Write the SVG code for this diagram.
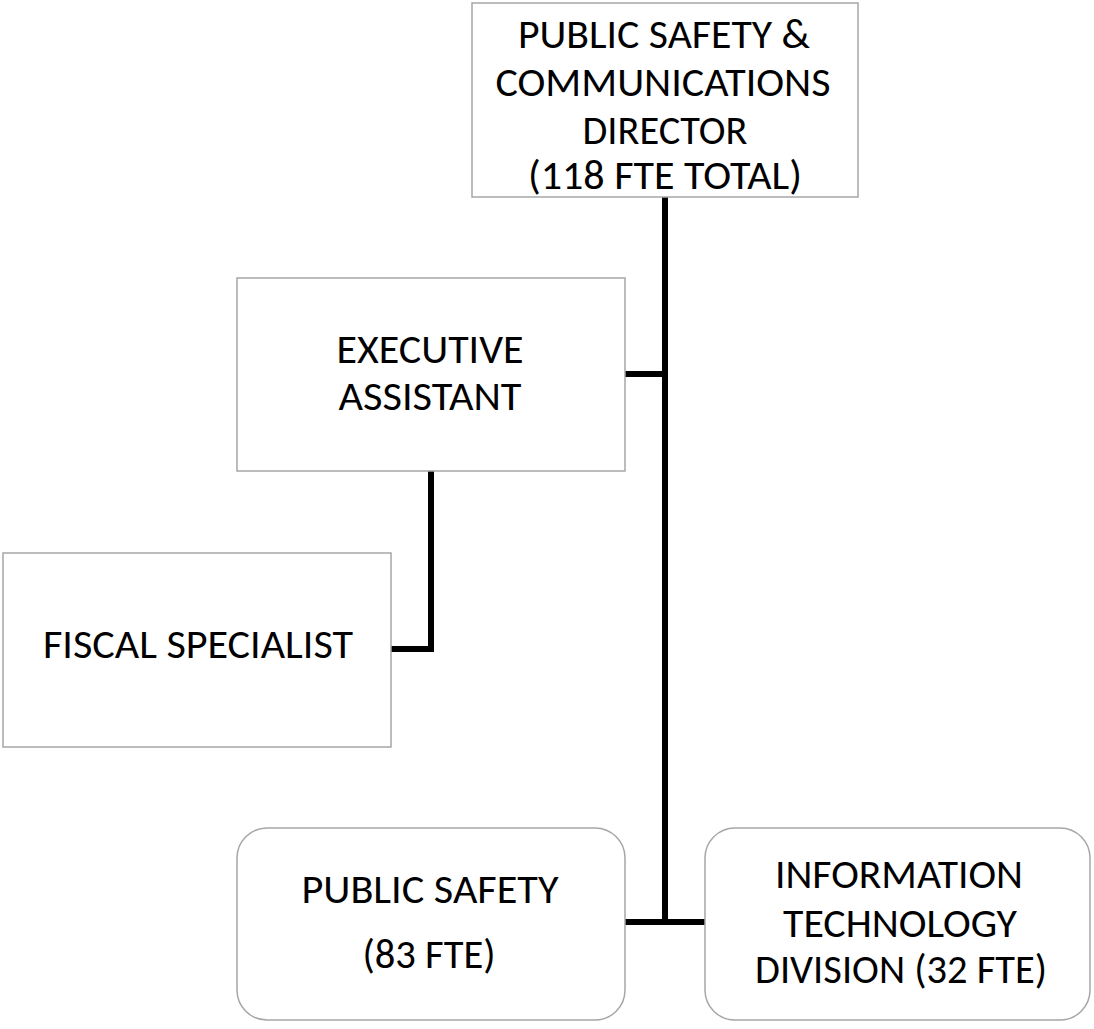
<svg xmlns="http://www.w3.org/2000/svg" width="1094" height="1029" viewBox="0 0 1094 1029">
<style>
.box{fill:#fff;stroke:#a6a6a6;stroke-width:1.5}
.lbl{font-family:Carlito,"Liberation Sans",Arial,sans-serif;font-size:40px;fill:#000;text-anchor:middle}
.con{stroke:#000;stroke-width:6;fill:none;stroke-linecap:butt}
</style>
<rect width="1094" height="1029" fill="#fff"/>
<g id="connectors">
<line class="con" x1="665" y1="197" x2="665" y2="925"/>
<line class="con" x1="625" y1="374" x2="668" y2="374"/>
<polyline class="con" points="431,471 431,649 391,649"/>
<line class="con" x1="625" y1="922" x2="705" y2="922"/>
</g>
<g id="director">
<rect class="box" x="472" y="3" width="386" height="194"/>
<text class="lbl" x="664" y="48" textLength="292" lengthAdjust="spacingAndGlyphs">PUBLIC SAFETY &amp;</text>
<text class="lbl" x="663" y="96" textLength="335" lengthAdjust="spacingAndGlyphs">COMMUNICATIONS</text>
<text class="lbl" x="665" y="144" textLength="165" lengthAdjust="spacingAndGlyphs">DIRECTOR</text>
<text class="lbl" x="665" y="189" textLength="274" lengthAdjust="spacingAndGlyphs">(118 FTE TOTAL)</text>
</g>
<g id="exec-assistant">
<rect class="box" x="237" y="278" width="388" height="193"/>
<text class="lbl" x="430" y="363" textLength="187" lengthAdjust="spacingAndGlyphs">EXECUTIVE</text>
<text class="lbl" x="430" y="410" textLength="183" lengthAdjust="spacingAndGlyphs">ASSISTANT</text>
</g>
<g id="fiscal-specialist">
<rect class="box" x="3" y="553" width="388" height="194"/>
<text class="lbl" x="198" y="658" textLength="310" lengthAdjust="spacingAndGlyphs">FISCAL SPECIALIST</text>
</g>
<g id="public-safety">
<rect class="box" x="237" y="828" width="388" height="192" rx="30" ry="30"/>
<text class="lbl" x="430" y="903" textLength="257" lengthAdjust="spacingAndGlyphs">PUBLIC SAFETY</text>
<text class="lbl" x="429" y="968" textLength="133" lengthAdjust="spacingAndGlyphs">(83 FTE)</text>
</g>
<g id="it-division">
<rect class="box" x="705" y="828" width="385" height="192" rx="30" ry="30"/>
<text class="lbl" x="899" y="888" textLength="248" lengthAdjust="spacingAndGlyphs">INFORMATION</text>
<text class="lbl" x="900" y="937" textLength="234" lengthAdjust="spacingAndGlyphs">TECHNOLOGY</text>
<text class="lbl" x="901" y="983" textLength="292" lengthAdjust="spacingAndGlyphs">DIVISION (32 FTE)</text>
</g>
</svg>
